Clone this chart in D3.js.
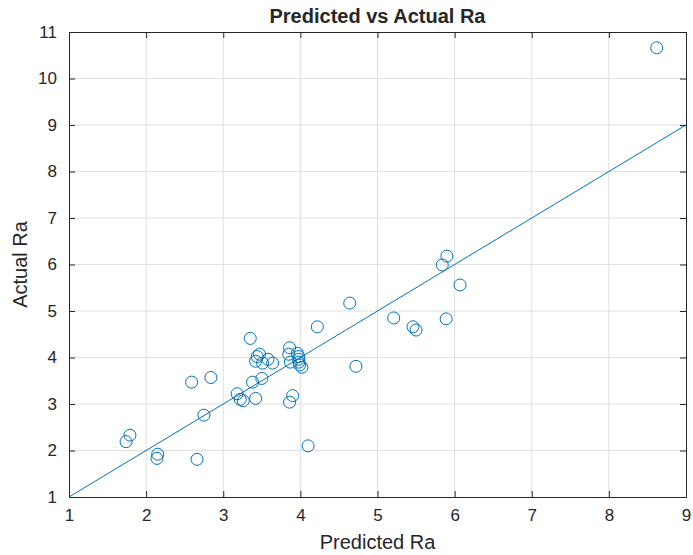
<!DOCTYPE html>
<html>
<head>
<meta charset="utf-8">
<script src="https://cdn.jsdelivr.net/npm/d3@7"></script>
<style>
  html, body { margin: 0; padding: 0; background: #ffffff; }
  svg { display: block; }
  text { font-family: "Liberation Sans", Arial, Helvetica, sans-serif; fill: #262626; }
</style>
</head>
<body>
<svg id="chart" width="693" height="555"></svg>
<script>
// Predicted vs actual surface roughness (Ra)
const predicted = [8.62, 5.90, 5.84, 6.07, 4.64, 5.21, 5.89, 5.46, 5.50, 4.22,
                   3.35, 4.72, 3.86, 3.85, 3.87, 3.96, 3.98, 3.98, 3.98, 3.99,
                   4.02, 3.47, 3.44, 3.42, 3.51, 3.58, 3.64, 2.59, 2.84, 3.38,
                   3.50, 3.18, 3.22, 3.26, 3.42, 3.90, 3.86, 2.75, 1.79, 1.74,
                   2.15, 2.14, 2.66, 4.10];
const actual =    [10.66, 6.18, 5.99, 5.56, 5.17, 4.85, 4.83, 4.66, 4.59, 4.66,
                   4.41, 3.81, 4.21, 4.07, 3.90, 4.09, 4.02, 3.96, 3.90, 3.84,
                   3.79, 4.07, 4.02, 3.92, 3.88, 3.96, 3.88, 3.47, 3.57, 3.47,
                   3.55, 3.22, 3.10, 3.07, 3.12, 3.18, 3.04, 2.76, 2.33, 2.19,
                   1.92, 1.83, 1.81, 2.10];
const xTicks = [1, 2, 3, 4, 5, 6, 7, 8, 9];
const yTicks = [1, 2, 3, 4, 5, 6, 7, 8, 9, 10, 11];
const refLine = [1, 9];

const svg = d3.select("#chart");
const plotL = 69, plotR = 686, plotT = 32, plotB = 497;
const x = d3.scaleLinear().domain([1, 9]).range([plotL, plotR]);
const y = d3.scaleLinear().domain([1, 11]).range([plotB, plotT]);
const blue = "#0072BD";
const axisColor = "#262626";

// grid
svg.append("g").selectAll("line").data(xTicks.slice(1, -1)).join("line")
  .attr("x1", d => x(d)).attr("x2", d => x(d)).attr("y1", plotT).attr("y2", plotB)
  .attr("stroke", "#dfdfdf").attr("stroke-width", 1);
svg.append("g").selectAll("line").data(yTicks.slice(1, -1)).join("line")
  .attr("y1", d => y(d)).attr("y2", d => y(d)).attr("x1", plotL).attr("x2", plotR)
  .attr("stroke", "#dfdfdf").attr("stroke-width", 1);

// y = x reference line
svg.append("line")
  .attr("x1", x(refLine[0])).attr("y1", y(refLine[0]))
  .attr("x2", x(refLine[1])).attr("y2", y(refLine[1]))
  .attr("stroke", blue).attr("stroke-width", 1);

// scatter markers
svg.append("g").selectAll("circle").data(predicted.map((p, i) => [p, actual[i]])).join("circle")
  .attr("cx", d => x(d[0])).attr("cy", d => y(d[1])).attr("r", 6)
  .attr("fill", "none").attr("stroke", blue).attr("stroke-width", 1);

// axes with inward ticks on all four sides
const tl = 6;
const axB = svg.append("g").attr("transform", `translate(0,${plotB})`)
  .call(d3.axisBottom(x).tickValues(xTicks).tickSize(-tl).tickPadding(12).tickFormat(d3.format("d")));
const axT = svg.append("g").attr("transform", `translate(0,${plotT})`)
  .call(d3.axisTop(x).tickValues(xTicks).tickSize(-tl).tickFormat(""));
const axL = svg.append("g").attr("transform", `translate(${plotL},0)`)
  .call(d3.axisLeft(y).tickValues(yTicks).tickSize(-tl).tickPadding(12).tickFormat(d3.format("d")));
const axR = svg.append("g").attr("transform", `translate(${plotR},0)`)
  .call(d3.axisRight(y).tickValues(yTicks).tickSize(-tl).tickFormat(""));
[axB, axT, axL, axR].forEach(a => {
  a.select(".domain").attr("stroke", axisColor);
  a.selectAll(".tick line").attr("stroke", axisColor);
  a.selectAll("text").attr("font-size", 17).attr("font-family", "Liberation Sans, Arial, sans-serif").attr("fill", axisColor);
});

svg.append("text").attr("x", (plotL + plotR) / 2).attr("y", 23)
  .attr("text-anchor", "middle").attr("font-size", 20).attr("font-weight", "bold")
  .attr("fill", "#000").text("Predicted vs Actual Ra");
svg.append("text").attr("x", (plotL + plotR) / 2).attr("y", 549)
  .attr("text-anchor", "middle").attr("font-size", 20).text("Predicted Ra");
svg.append("text").attr("transform", `translate(27,${(plotT + plotB) / 2}) rotate(-90)`)
  .attr("text-anchor", "middle").attr("font-size", 20).text("Actual Ra");
</script>
</body>
</html>
